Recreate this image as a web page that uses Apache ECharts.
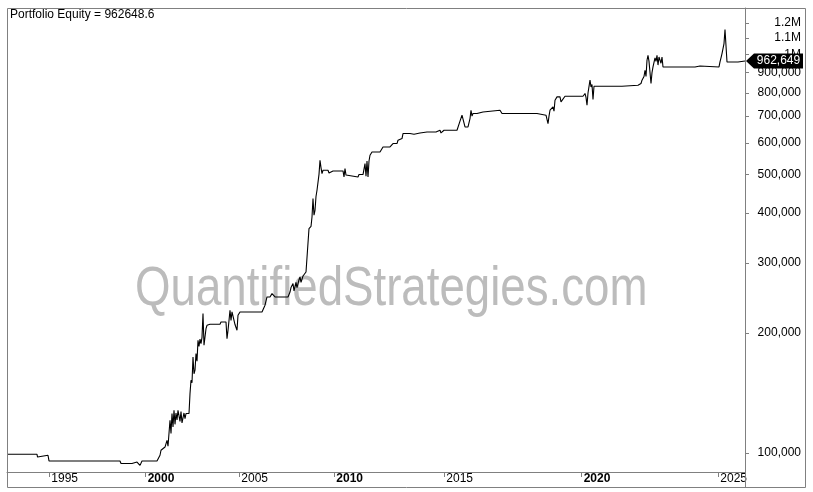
<!DOCTYPE html>
<html>
<head>
<meta charset="utf-8">
<script src="https://cdn.jsdelivr.net/npm/echarts@6/dist/echarts.min.js"></script>
<style>
html,body{margin:0;padding:0;background:#fff;}
#chart{width:813px;height:492px;}
</style>
</head>
<body>
<div id="chart"></div>
<script>
// x axis is the bar (trading session) index, as in the original bar-based chart
const xTickBars = [381, 1248, 2091, 2946, 3936, 5172, 6402];
const xTickLabels = ['1995', '2000', '2005', '2010', '2015', '2020', '2025'];
const yTickValues = [100000, 200000, 300000, 400000, 500000, 600000, 700000, 800000, 900000, 1000000, 1100000, 1200000];
const yTickLabels = ['100,000', '200,000', '300,000', '400,000', '500,000', '600,000', '700,000', '800,000', '900,000', '1M', '1.1M', '1.2M'];

const equityBars = [
  0, 270, 275, 284, 369, 378, 1017, 1026, 1125, 1134, 1170, 1188, 1197, 1215, 1350, 1359, 1377, 1386, 1404, 1422,
  1440, 1449, 1467, 1476, 1485, 1494, 1503, 1512, 1521, 1530, 1539, 1557, 1566, 1575, 1593, 1602, 1611, 1629, 1638, 1647,
  1656, 1665, 1674, 1683, 1692, 1701, 1710, 1719, 1728, 1737, 1746, 1755, 1764, 1773, 1791, 1800, 1827, 1917, 1926, 1971,
  1980, 1989, 1998, 2007, 2016, 2025, 2034, 2052, 2070, 2079, 2097, 2295, 2313, 2322, 2340, 2367, 2385, 2394, 2412, 2529,
  2547, 2556, 2574, 2583, 2601, 2610, 2628, 2637, 2646, 2664, 2682, 2691, 2700, 2709, 2718, 2736, 2745, 2754, 2763, 2772,
  2781, 2790, 2799, 2808, 2817, 2826, 2835, 2844, 2889, 2898, 2907, 2934, 3024, 3033, 3042, 3051, 3060, 3159, 3168, 3204,
  3222, 3231, 3240, 3249, 3258, 3267, 3285, 3357, 3366, 3384, 3447, 3456, 3465, 3474, 3510, 3519, 3537, 3555, 3564, 3627,
  3636, 3663, 3717, 3780, 3861, 3870, 3897, 3906, 3924, 3933, 4050, 4059, 4077, 4095, 4104, 4122, 4149, 4158, 4167, 4176,
  4185, 4194, 4230, 4239, 4284, 4302, 4437, 4455, 4770, 4779, 4851, 4869, 4878, 4887, 4914, 4923, 4932, 4950, 4977, 4986,
  5004, 5022, 5184, 5202, 5211, 5220, 5229, 5247, 5256, 5265, 5274, 5283, 5535, 5544, 5679, 5697, 5706, 5715, 5733, 5742,
  5751, 5760, 5769, 5778, 5787, 5796, 5805, 5814, 5832, 5841, 5850, 5859, 5868, 5877, 5886, 5895, 5904, 6192, 6210, 6237,
  6255, 6408, 6417, 6426, 6435, 6444, 6453, 6462, 6471, 6480, 6579, 6597, 6642
];
const equityValues = [
  99250, 99250, 97700, 98700, 98700, 95500, 95500, 94100, 94100, 94600, 94900, 94900, 93100, 95500, 95500, 96300, 98700, 101600, 101600, 103500,
  107600, 104000, 120800, 112000, 125600, 116200, 128000, 118000, 126000, 121000, 128000, 120000, 127000, 119000, 126000, 122000, 125600, 125600, 125600, 140900,
  152200, 150000, 174100, 158000, 161300, 177600, 170000, 191700, 185000, 193000, 188000, 195000, 223700, 186300, 205000, 209100, 210300, 210300, 213100, 213100,
  193600, 203100, 215000, 228000, 215000, 226000, 228000, 210000, 203100, 221500, 225800, 225800, 228000, 234800, 246300, 246300, 251100, 251100, 246300, 246300,
  253400, 260000, 266100, 255000, 268000, 260000, 272000, 276400, 268000, 278000, 276400, 284500, 284500, 282000, 365600, 370000, 390900, 434700, 395000, 406300,
  440000, 456100, 460600, 500000, 542400, 520000, 502300, 512000, 512000, 504000, 507000, 509900, 509900, 492600, 517100, 498000, 492600, 492600, 499400, 499400,
  532200, 495000, 540000, 492600, 540000, 558300, 569100, 569100, 574700, 585700, 585700, 580400, 580400, 597400, 597400, 608900, 614900, 614900, 632900, 632900,
  630300, 630300, 635100, 638800, 638800, 645100, 645100, 635100, 635100, 645100, 645100, 651500, 680000, 703600, 700000, 657500, 657500, 651500, 690000, 724200,
  700000, 710600, 710600, 717100, 717100, 724200, 724200, 710600, 710600, 703600, 703600, 670500, 700000, 724200, 738200, 720000, 767300, 782100, 782100, 759800,
  759800, 785200, 785200, 797600, 780000, 745500, 800000, 861600, 828400, 840000, 770400, 831800, 831800, 836600, 836600, 831800, 845000, 861600, 880000, 912200,
  880000, 966500, 994800, 960000, 966500, 844900, 900000, 929800, 980000, 960000, 994800, 940000, 985000, 994800, 950000, 985000, 929800, 929800, 935200, 935200,
  929800, 929800, 957100, 980000, 1004700, 1014000, 1064400, 1154000, 1154000, 957100, 957100, 962648.6, 962648.6
];

const FONT = '"Liberation Sans", Arial, sans-serif';
const lastBar = equityBars[equityBars.length - 1];
const lastValue = equityValues[equityValues.length - 1];
const seriesData = equityBars.map((b, i) => [b, equityValues[i]]);

function nearestIndex(arr, v, rel) {
  let best = -1, bd = Infinity;
  arr.forEach((a, i) => { const d = Math.abs(a - v); if (d < bd) { bd = d; best = i; } });
  return (rel ? bd / arr[best] < 1e-6 : bd < 1e-6) ? best : -1;
}

const chart = echarts.init(document.getElementById('chart'), null, { renderer: 'canvas' });
chart.setOption({
  animation: false,
  backgroundColor: '#fff',
  title: {
    text: 'Portfolio Equity = ' + lastValue.toFixed(1),
    left: 10, top: 9, padding: 0,
    textStyle: { fontSize: 12, fontWeight: 'normal', color: '#000', fontFamily: FONT }
  },
  grid: { left: 7, right: 68, top: 8, bottom: 20 },
  xAxis: {
    type: 'value', min: 0, max: lastBar,
    axisLine: { show: true, onZero: false, lineStyle: { color: '#808080', width: 1 } },
    axisTick: { show: true, customValues: xTickBars, length: 5, inside: false, lineStyle: { color: '#808080' } },
    axisLabel: {
      customValues: xTickBars, margin: 1, align: 'left', padding: [0, 0, 0, 2],
      hideOverlap: false, showMinLabel: true, showMaxLabel: true,
      color: '#000', fontSize: 12, fontFamily: FONT,
      formatter: function (v) {
        const i = nearestIndex(xTickBars, v, false);
        if (i < 0) return '';
        const lab = xTickLabels[i];
        return (+lab % 10 === 0) ? '{b|' + lab + '}' : lab;
      },
      rich: { b: { fontWeight: 'bold', fontSize: 12, fontFamily: FONT, color: '#000' } }
    },
    splitLine: { show: false }
  },
  yAxis: {
    type: 'log', logBase: 10, position: 'right', min: 89600, max: 1307000,
    axisLine: { show: true, onZero: false, lineStyle: { color: '#808080', width: 1 } },
    axisTick: { show: true, customValues: yTickValues, length: 4, inside: false, lineStyle: { color: '#808080' } },
    axisLabel: {
      customValues: yTickValues, margin: 56, align: 'right',
      hideOverlap: false, color: '#000', fontSize: 12, fontFamily: FONT,
      formatter: function (v) {
        const i = nearestIndex(yTickValues, v, true);
        return i < 0 ? '' : yTickLabels[i];
      }
    },
    splitLine: { show: false }
  },
  graphic: [
    {
      type: 'text', x: 135, y: 262, scaleX: 0.815, z: 1, silent: true,
      style: { text: 'QuantifiedStrategies.com', fontSize: 56, fontFamily: FONT, fill: '#bcbcbc' }
    },
    {
      type: 'rect', z: 50, silent: true,
      shape: { x: 7.5, y: 8.5, width: 798, height: 479 },
      style: { fill: 'none', stroke: '#808080', lineWidth: 1 }
    },
    {
      type: 'line', z: 50, silent: true,
      shape: { x1: 745.5, y1: 8.5, x2: 745.5, y2: 487.5 },
      style: { stroke: '#808080', lineWidth: 1 }
    }
  ],
  series: [{
    type: 'line',
    data: seriesData,
    showSymbol: false,
    symbol: 'none',
    z: 5,
    lineStyle: { color: '#000', width: 1.1 },
    markPoint: {
      silent: true,
      symbol: 'path://M0,7.5L8,0L57,0L57,15L8,15Z',
      symbolSize: [57, 15],
      symbolOffset: [29.5, 0],
      itemStyle: { color: '#000' },
      label: {
        show: true, color: '#fff', fontSize: 12, fontFamily: FONT, offset: [4, 0],
        formatter: function () { return Math.round(lastValue).toLocaleString('en-US'); }
      },
      data: [{ coord: [lastBar, lastValue] }]
    }
  }]
});
</script>
</body>
</html>
